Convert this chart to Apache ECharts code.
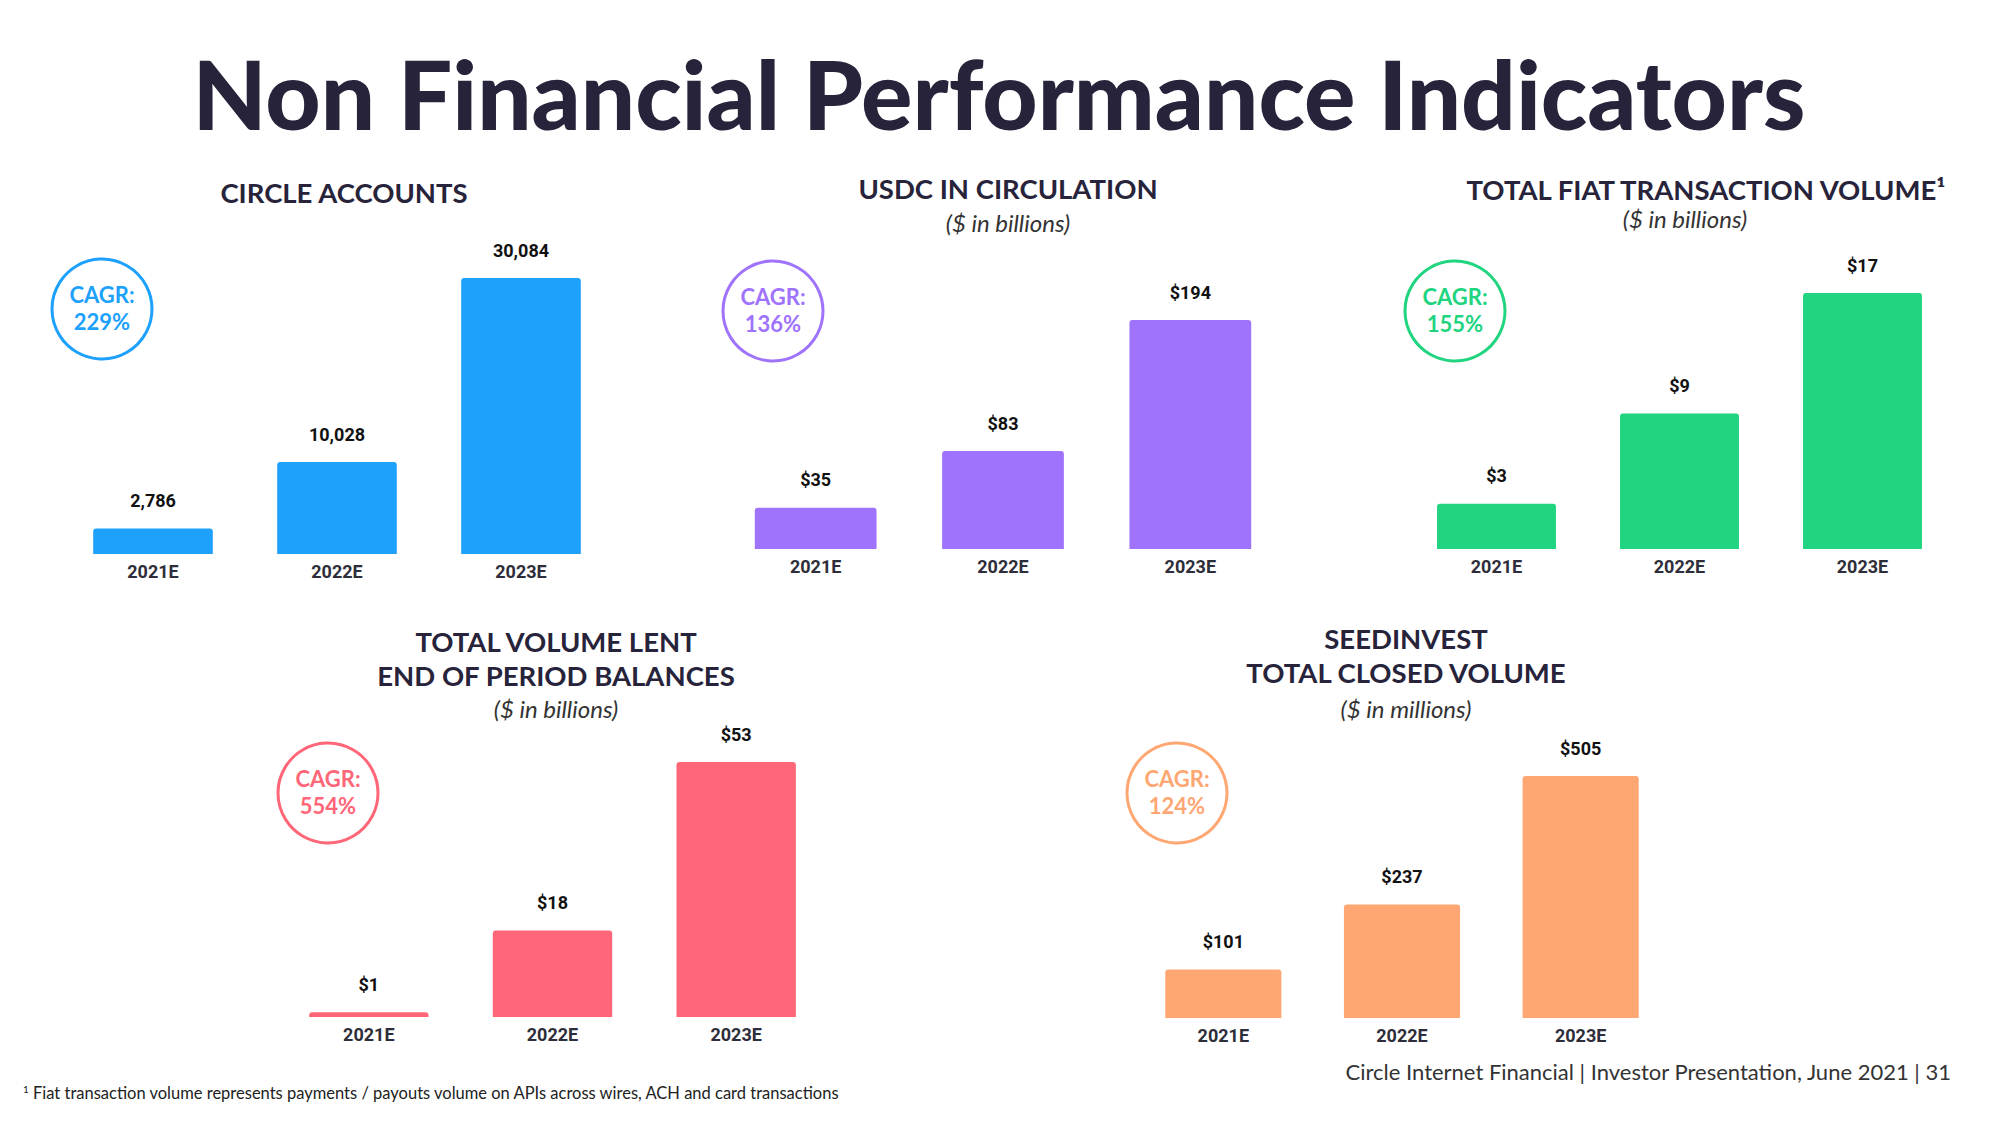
<!DOCTYPE html>
<html>
<head>
<meta charset="utf-8">
<script src="https://cdn.jsdelivr.net/npm/echarts@6/dist/echarts.min.js"></script>
<style>
html,body{margin:0;padding:0;background:#fff;}
#c{width:2000px;height:1125px;}
</style>
</head>
<body>
<div id="c"></div>
<script>
const categories = ['2021E', '2022E', '2023E'];
const circleAccounts = [2786, 10028, 30084];
const usdcCirculation = [35, 83, 194];
const fiatVolume = [3, 9, 17];
const volumeLent = [1, 18, 53];
const seedInvestVolume = [101, 237, 505];
const cagrLabels = ['229%', '136%', '155%', '554%', '124%'];
const chartTitles = [
  ['CIRCLE ACCOUNTS'],
  ['USDC IN CIRCULATION'],
  ['TOTAL FIAT TRANSACTION VOLUME¹'],
  ['TOTAL VOLUME LENT', 'END OF PERIOD BALANCES'],
  ['SEEDINVEST', 'TOTAL CLOSED VOLUME']
];
const chartSubtitles = ['', '($ in billions)', '($ in billions)', '($ in billions)', '($ in millions)'];

const seriesValues = [circleAccounts, usdcCirculation, fiatVolume, volumeLent, seedInvestVolume];
const colors = ['#1DA1FC', '#A073FC', '#21D47F', '#FF6678', '#FFA773'];
const grids = [
  {left: 61, width: 552, top: 278, height: 276},
  {left: 722, width: 562, top: 320, height: 229},
  {left: 1405, width: 549, top: 293, height: 256},
  {left: 277, width: 551, top: 762, height: 255},
  {left: 1134, width: 536, top: 776, height: 242}
];
const circles = [[102, 309], [773, 311], [1455, 311], [328, 793], [1177, 793]];
const titlePos = [[344, 192], [1008, 188], [1706, 189], [556, 641], [1406, 638]];
const subtitleY = [0, 222, 218, 708, 708];

const chart = echarts.init(document.getElementById('c'), null, {renderer: 'svg'});
const titleFont = 'Lato';
const dark = '#27233A';

const graphics = [];
graphics.push({
  type: 'text', x: 999, y: 92,
  style: {text: 'Non Financial Performance Indicators', font: '900 96px Lato', fill: dark,
          textAlign: 'center', textVerticalAlign: 'middle'}
});
chartTitles.forEach((lines, i) => {
  lines.forEach((t, j) => {
    graphics.push({type: 'text', x: titlePos[i][0], y: titlePos[i][1] + j * 34,
      style: {text: t, font: 'bold 27.5px ' + titleFont, fill: dark, textAlign: 'center', textVerticalAlign: 'middle'}});
  });
  if (chartSubtitles[i]) {
    graphics.push({type: 'text', x: titlePos[i][0] - (i === 2 ? 21 : 0), y: subtitleY[i],
      style: {text: chartSubtitles[i], font: 'italic 24px ' + titleFont, fill: '#333', textAlign: 'center', textVerticalAlign: 'middle'}});
  }
  const [cx, cy] = circles[i];
  graphics.push({type: 'circle', shape: {cx: cx, cy: cy, r: 50}, style: {fill: 'none', stroke: colors[i], lineWidth: 3}});
  graphics.push({type: 'text', x: cx, y: cy - 15,
    style: {text: 'CAGR:', font: 'bold 22px ' + titleFont, fill: colors[i], textAlign: 'center', textVerticalAlign: 'middle'}});
  graphics.push({type: 'text', x: cx, y: cy + 12,
    style: {text: cagrLabels[i], font: 'bold 22px ' + titleFont, fill: colors[i], textAlign: 'center', textVerticalAlign: 'middle'}});
});
graphics.push({type: 'text', x: 1951, y: 1071,
  style: {text: 'Circle Internet Financial | Investor Presentation, June 2021 | 31', font: '22px Lato', fill: '#333',
          textAlign: 'right', textVerticalAlign: 'middle'}});
graphics.push({type: 'text', x: 23, y: 1093,
  style: {text: '{s|1} Fiat transaction volume represents payments / payouts volume on APIs across wires, ACH and card transactions',
          font: '16.5px Lato', fill: '#222', textVerticalAlign: 'middle',
          rich: {s: {fontSize: 10, fontFamily: 'Lato', verticalAlign: 'top', padding: [0, 0, 8, 0]}}}});

const option = {
  backgroundColor: '#fff',
  animation: false,
  grid: grids.map(g => Object.assign({containLabel: false}, g)),
  xAxis: grids.map((g, i) => ({
    type: 'category', gridIndex: i, data: categories,
    axisLine: {show: false}, axisTick: {show: false},
    axisLabel: {color: '#2E2E3A', fontFamily: 'Roboto', fontWeight: 'bold', fontSize: 18, margin: 8}
  })),
  yAxis: grids.map((g, i) => ({
    type: 'value', gridIndex: i, min: 0, max: 'dataMax', show: false, splitLine: {show: false}
  })),
  series: seriesValues.map((vals, i) => ({
    type: 'bar', xAxisIndex: i, yAxisIndex: i, data: vals, barWidth: '65%',
    itemStyle: {color: colors[i], borderRadius: [3, 3, 0, 0]},
    label: {show: true, position: 'top', distance: 19, color: '#111', fontFamily: 'Roboto', fontWeight: 'bold', fontSize: 18,
      formatter: p => (i === 0 ? p.value.toLocaleString('en-US') : '$' + p.value)}
  })),
  graphic: graphics
};
chart.setOption(option);
</script>
</body>
</html>
